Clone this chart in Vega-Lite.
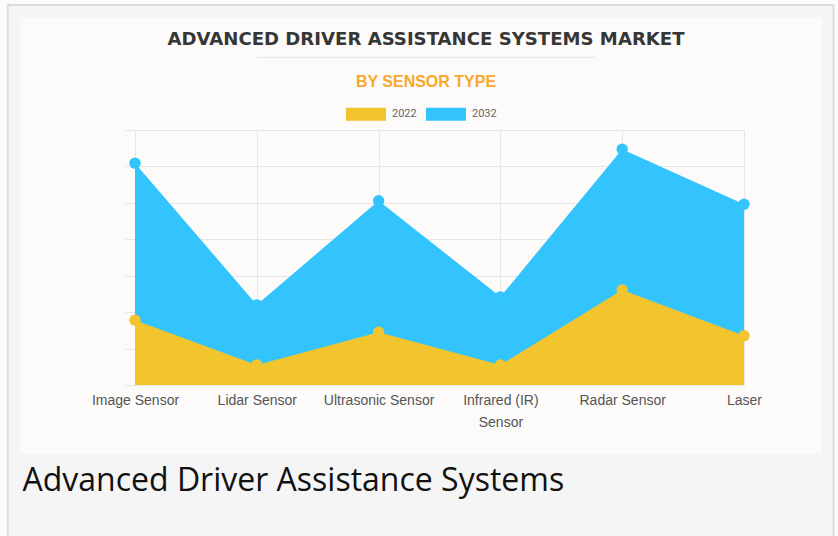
{
  "$schema": "https://vega.github.io/schema/vega-lite/v6.json",
  "width": 609,
  "height": 255,
  "autosize": {"type": "none"},
  "padding": {"left": 135, "top": 130, "right": 94, "bottom": 151},
  "background": "#fcfbfa",
  "title": {
    "text": "ADVANCED DRIVER ASSISTANCE SYSTEMS MARKET",
    "subtitle": "BY SENSOR TYPE",
    "anchor": "middle",
    "frame": "group",
    "dx": -13.5,
    "offset": -86,
    "font": "DejaVu Sans",
    "fontSize": 18.1,
    "fontWeight": "bold",
    "color": "#363636",
    "subtitleFont": "Liberation Sans",
    "subtitleFontSize": 16,
    "subtitleFontWeight": "bold",
    "subtitleColor": "#f9a82b",
    "subtitlePadding": 25
  },
  "datasets": {
    "sensors": [
      {"sensor": "Image Sensor", "year": "2022", "value": 1.78},
      {"sensor": "Lidar Sensor", "year": "2022", "value": 0.55},
      {"sensor": "Ultrasonic Sensor", "year": "2022", "value": 1.45},
      {"sensor": "Infrared (IR) Sensor", "year": "2022", "value": 0.55},
      {"sensor": "Radar Sensor", "year": "2022", "value": 2.61},
      {"sensor": "Laser", "year": "2022", "value": 1.35},
      {"sensor": "Image Sensor", "year": "2032", "value": 6.09},
      {"sensor": "Lidar Sensor", "year": "2032", "value": 2.2},
      {"sensor": "Ultrasonic Sensor", "year": "2032", "value": 5.06},
      {"sensor": "Infrared (IR) Sensor", "year": "2032", "value": 2.42},
      {"sensor": "Radar Sensor", "year": "2032", "value": 6.47},
      {"sensor": "Laser", "year": "2032", "value": 4.96}
    ]
  },
  "layer": [
    {
      "data": {"values": [{}]},
      "mark": {"type": "rect", "fill": null, "stroke": "#f5f5f5", "strokeWidth": 12.5},
      "encoding": {
        "x": {"datum": -0.9926, "type": "quantitative", "scale": {"domain": [0, 5], "nice": false, "zero": false}, "axis": null},
        "x2": {"datum": 5.686},
        "y": {"datum": 10.262, "type": "quantitative", "scale": {"domain": [0, 7], "nice": false, "zero": false}, "axis": null},
        "y2": {"datum": -3.157}
      }
    },
    {
      "data": {"values": [{}]},
      "mark": {"type": "rect", "fill": "#f5f5f5"},
      "encoding": {
        "x": {"datum": -1.045, "type": "quantitative", "scale": {"domain": [0, 5], "nice": false, "zero": false}, "axis": null},
        "x2": {"datum": 5.735},
        "y": {"datum": -1.875, "type": "quantitative", "scale": {"domain": [0, 7], "nice": false, "zero": false}, "axis": null},
        "y2": {"datum": -4.8}
      }
    },
    {
      "data": {"values": [{}]},
      "mark": {"type": "rect", "fill": null, "stroke": "#dcdcdc", "strokeWidth": 2},
      "encoding": {
        "x": {"datum": -1.045, "type": "quantitative", "scale": {"domain": [0, 5], "nice": false, "zero": false}, "axis": null},
        "x2": {"datum": 5.735},
        "y": {"datum": 10.43, "type": "quantitative", "scale": {"domain": [0, 7], "nice": false, "zero": false}, "axis": null},
        "y2": {"datum": -6}
      }
    },
    {
      "data": {"values": [{}]},
      "mark": {"type": "rule", "stroke": "#e2e2e2", "strokeWidth": 1},
      "encoding": {
        "x": {"datum": 1.002, "type": "quantitative", "scale": {"domain": [0, 5], "nice": false, "zero": false}, "axis": null},
        "x2": {"datum": 3.777},
        "y": {"datum": 8.995, "type": "quantitative", "scale": {"domain": [0, 7], "nice": false, "zero": false}, "axis": null}
      }
    },
    {
      "data": {"name": "sensors"},
      "encoding": {
        "x": {
          "field": "sensor",
          "type": "nominal",
          "sort": null,
          "scale": {"type": "point", "padding": 0},
          "axis": {
            "orient": "bottom",
            "title": null,
            "labels": false,
            "domain": false,
            "ticks": false,
            "grid": true,
            "gridColor": "#e6e6e6",
            "zindex": 0
          }
        },
        "y": {
          "field": "value",
          "type": "quantitative",
          "stack": null,
          "scale": {"domain": [0, 7], "nice": false},
          "axis": {
            "orient": "left",
            "title": null,
            "labels": false,
            "values": [0, 1, 2, 3, 4, 5, 6, 7],
            "ticks": true,
            "tickSize": 10,
            "tickColor": "#e6e6e6",
            "domain": false,
            "grid": true,
            "gridColor": "#e6e6e6",
            "zindex": 0
          }
        },
        "color": {
          "field": "year",
          "type": "nominal",
          "scale": {"domain": ["2022", "2032"], "range": ["#f2c42e", "#33c4fd"]},
          "legend": {
            "title": null,
            "orient": "none",
            "legendX": 211,
            "legendY": -36,
            "direction": "horizontal",
            "symbolType": "M-1,-0.325H1V0.325H-1Z",
            "symbolSize": 1600,
            "symbolStrokeWidth": 0,
            "symbolOpacity": 1,
            "labelFont": "Roboto",
            "labelFontSize": 11,
            "labelColor": "#666666",
            "labelOffset": 6,
            "columnPadding": 9,
            "padding": 0
          }
        }
      },
      "layer": [
        {"transform": [{"filter": "datum.year == '2032'"}], "mark": {"type": "area", "opacity": 1}},
        {"transform": [{"filter": "datum.year == '2022'"}], "mark": {"type": "area", "opacity": 1}}
      ]
    },
    {
      "data": {"name": "sensors"},
      "encoding": {
        "x": {
          "field": "sensor",
          "type": "nominal",
          "sort": null,
          "scale": {"type": "point", "padding": 0},
          "axis": {
            "orient": "bottom",
            "title": "Advanced Driver Assistance Systems",
            "titleFont": "Open Sans",
            "titleFontSize": 32,
            "titleFontWeight": "normal",
            "titleColor": "#111111",
            "titleAnchor": "start",
            "titleAlign": "left",
            "titleBaseline": "alphabetic",
            "titleX": -113,
            "titleY": 105,
            "labelFont": "Liberation Sans",
            "labelFontSize": 14,
            "labelColor": "#555555",
            "labelPadding": 8,
            "labelLineHeight": 22,
            "labelAngle": 0,
            "labelExpr": "datum.label == 'Infrared (IR) Sensor' ? ['Infrared (IR)', 'Sensor'] : datum.label",
            "domain": false,
            "ticks": false,
            "grid": false,
            "zindex": 1
          }
        },
        "y": {
          "field": "value",
          "type": "quantitative",
          "stack": null,
          "scale": {"domain": [0, 7], "nice": false},
          "axis": null
        },
        "color": {"field": "year", "type": "nominal"}
      },
      "layer": [
        {"transform": [{"filter": "datum.year == '2032'"}], "mark": {"type": "point", "filled": true, "size": 130, "opacity": 1}},
        {"transform": [{"filter": "datum.year == '2022'"}], "mark": {"type": "point", "filled": true, "size": 130, "opacity": 1}}
      ]
    }
  ],
  "resolve": {"scale": {"x": "independent", "y": "independent"}},
  "config": {"view": {"stroke": null}}
}
